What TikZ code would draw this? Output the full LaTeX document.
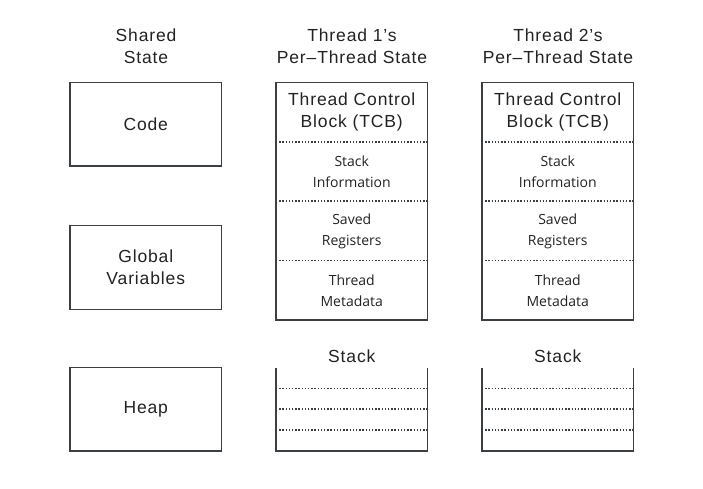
\documentclass[tikz,border=0pt]{standalone}
\usepackage{fontspec}
\setmainfont{Liberation Sans}[LetterSpace=5]
\newfontfamily\smallfont{Open Sans}
\usetikzlibrary{calc}
\definecolor{linegray}{HTML}{3C3F41}
\definecolor{txtgray}{HTML}{222222}

\begin{document}
\begin{tikzpicture}[x=1pt,y=-1pt,
    box/.style={draw=linegray, line width=1.3pt, inner sep=0pt, outer sep=0pt,
      minimum width=151.5pt, minimum height=83.5pt},
    big/.style={align=center, text=txtgray, font=\fontsize{17.5}{22}\selectfont},
    small/.style={align=center, text=txtgray, font=\smallfont\fontsize{14}{21}\selectfont},
    wall/.style={draw=linegray, line width=1.3pt},
    sep/.style={draw=linegray, line width=1.6pt, dash pattern=on 1.4pt off 1.8pt}]
    \useasboundingbox (0,0) rectangle (703,488);

    % Koppen
    \node[big] (shared) at (146,46) {Shared\\State};
    \node[big] (hdrA) at (352,46) {Thread 1’s\\Per–Thread State};
    \node[big] (hdrB) at (558,46) {Thread 2’s\\Per–Thread State};

    % Gedeelde toestand
    \node[box, big] (code) at (145.75,124.25) {Code};
    \node[box, big] (globals) at (145.75,267.5) {Global\\Variables};
    \node[box, big] (heap) at (145.75,409.25) {Heap};

    % Thread 1: TCB
    \node[box, minimum height=237.5pt] (tcbA) at (351.75,201.25) {};
    \foreach \f in {0.25,0.5,0.75}
      \draw[sep] ($(tcbA.north west)!\f!(tcbA.south west)$) -- ($(tcbA.north east)!\f!(tcbA.south east)$);
    \node[big] (tcbAhead) at ($(tcbA.north)!0.125!(tcbA.south)$) {Thread Control\\Block (TCB)};
    \node[small] (tcbAstack) at ($(tcbA.north)!0.375!(tcbA.south)$) {Stack\\Information};
    \node[small] (tcbAregs) at ($(tcbA.north)!0.625!(tcbA.south)$) {Saved\\Registers};
    \node[small] (tcbAmeta) at ($(tcbA.north)!0.875!(tcbA.south)$) {Thread\\Metadata};

    % Thread 2: TCB
    \node[box, minimum height=237.5pt] (tcbB) at (557.75,201.25) {};
    \foreach \f in {0.25,0.5,0.75}
      \draw[sep] ($(tcbB.north west)!\f!(tcbB.south west)$) -- ($(tcbB.north east)!\f!(tcbB.south east)$);
    \node[big] (tcbBhead) at ($(tcbB.north)!0.125!(tcbB.south)$) {Thread Control\\Block (TCB)};
    \node[small] (tcbBstack) at ($(tcbB.north)!0.375!(tcbB.south)$) {Stack\\Information};
    \node[small] (tcbBregs) at ($(tcbB.north)!0.625!(tcbB.south)$) {Saved\\Registers};
    \node[small] (tcbBmeta) at ($(tcbB.north)!0.875!(tcbB.south)$) {Thread\\Metadata};

    % Stacks
    \node[big] (stkAlabel) at (351.75,356) {Stack};
    \coordinate (stkAnw) at (276,367.5);
    \coordinate (stkAse) at (427.5,451);
    \draw[wall] (stkAnw) |- (stkAse) -- (stkAse |- stkAnw);
    \foreach \f in {0.25,0.5,0.75}
      \draw[sep] ($(stkAnw)!\f!(stkAnw |- stkAse)$) -- ($(stkAse |- stkAnw)!\f!(stkAse)$);

    \node[big] (stkBlabel) at (557.75,356) {Stack};
    \coordinate (stkBnw) at (482,367.5);
    \coordinate (stkBse) at (633.5,451);
    \draw[wall] (stkBnw) |- (stkBse) -- (stkBse |- stkBnw);
    \foreach \f in {0.25,0.5,0.75}
      \draw[sep] ($(stkBnw)!\f!(stkBnw |- stkBse)$) -- ($(stkBse |- stkBnw)!\f!(stkBse)$);
\end{tikzpicture}
\end{document}
